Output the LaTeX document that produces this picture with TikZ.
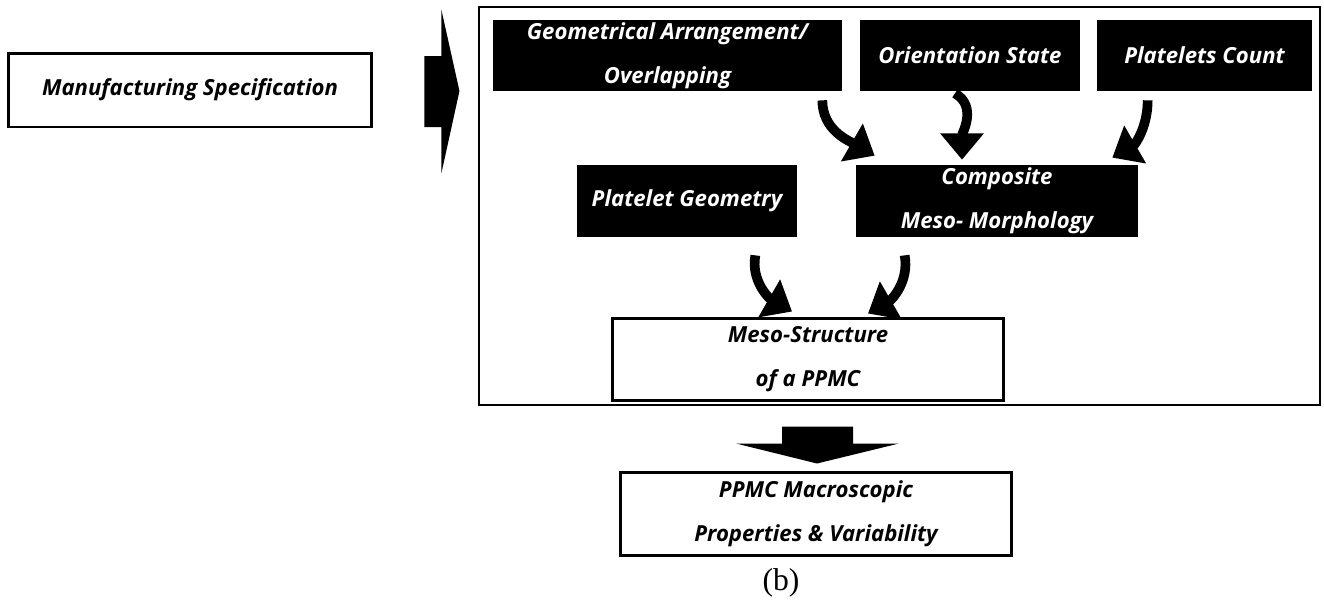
\documentclass[tikz,border=0pt]{standalone}
\usepackage{fontspec}
\setsansfont{Open Sans}
\newfontfamily\capfont{Liberation Serif}
\usetikzlibrary{arrows.meta}

\begin{document}
\begin{tikzpicture}[x=0.02cm, y=-0.02cm,
    boxtext/.style={font=\sffamily\bfseries\itshape\fontsize{12.6}{25}\selectfont, align=center, inner sep=0pt},
    blackbox/.style={boxtext, fill=black, text=white},
    whitebox/.style={boxtext, draw, line width=1.7pt, fill=white},
    bendarrow/.style={line width=5.5pt, -{Triangle[width=24pt,length=15pt]}}]
    \useasboundingbox (0,0) rectangle (1324,600);
    % outer frame of the meso-structure part
    \node[draw, line width=0.85pt, minimum width=16.82cm, minimum height=7.96cm] (frame) at (899.5,206) {};
    \node[whitebox, minimum width=7.28cm, minimum height=1.48cm] (manu) at (190,90) {Manufacturing Specification};
    % black boxes
    \node[blackbox, minimum width=6.98cm, minimum height=1.42cm] (geo) at (667.5,55.5) {Geometrical Arrangement/\\Overlapping};
    \node[blackbox, minimum width=4.4cm, minimum height=1.42cm] (orient) at (970,55.5) {Orientation State};
    \node[blackbox, minimum width=4.3cm, minimum height=1.42cm] (count) at (1204.5,55.5) {Platelets Count};
    \node[blackbox, minimum width=4.4cm, minimum height=1.44cm] (pgeom) at (687,201) {Platelet Geometry};
    \node[blackbox, minimum width=5.64cm, minimum height=1.44cm] (comp) at (997,201) {Composite\\Meso- Morphology};
    % white boxes
    \node[whitebox, minimum width=7.84cm, minimum height=1.64cm] (meso) at (808,359) {Meso-Structure\\of a PPMC};
    \node[whitebox, minimum width=7.84cm, minimum height=1.66cm] (macro) at (816,513.5) {PPMC Macroscopic\\Properties \& Variability};
    \node[font=\capfont\fontsize{18}{20}\selectfont, inner sep=0pt] (cap) at (781,583) {(b)};
    % block arrows
    \fill ([shift={(51,-34)}]manu.east) -- ++(17,0) -- ++(0,-46) -- ++(18,81)
        -- ++(-18,82) -- ++(0,-46) -- ++(-17,0) -- cycle;
    \fill ([shift={(-26,25)}]meso.south) -- ++(71,0) -- ++(0,17) -- ++(46,0)
        -- ++(-82,20) -- ++(-81,-20) -- ++(46,0) -- cycle;
    % curved arrows
    \draw[bendarrow] ([shift={(-20,9)}]geo.south east) to[out=-90, in=150] ([shift={(19,-9)}]comp.north west);
    \draw[bendarrow] ([shift={(-15,2)}]orient.south) to[out=-30, in=90] ([shift={(-35,-5)}]comp.north);
    \draw[bendarrow] ([shift={(51,9)}]count.south west) to[out=-90, in=30] ([shift={(-26,-7)}]comp.north east);
    \draw[bendarrow] ([shift={(-42,18)}]pgeom.south east) to[out=-100, in=150] ([shift={(-16,-5)}]meso.north);
    \draw[bendarrow] ([shift={(49,18)}]comp.south west) to[out=-80, in=30] ([shift={(60,-3)}]meso.north);
\end{tikzpicture}
\end{document}
